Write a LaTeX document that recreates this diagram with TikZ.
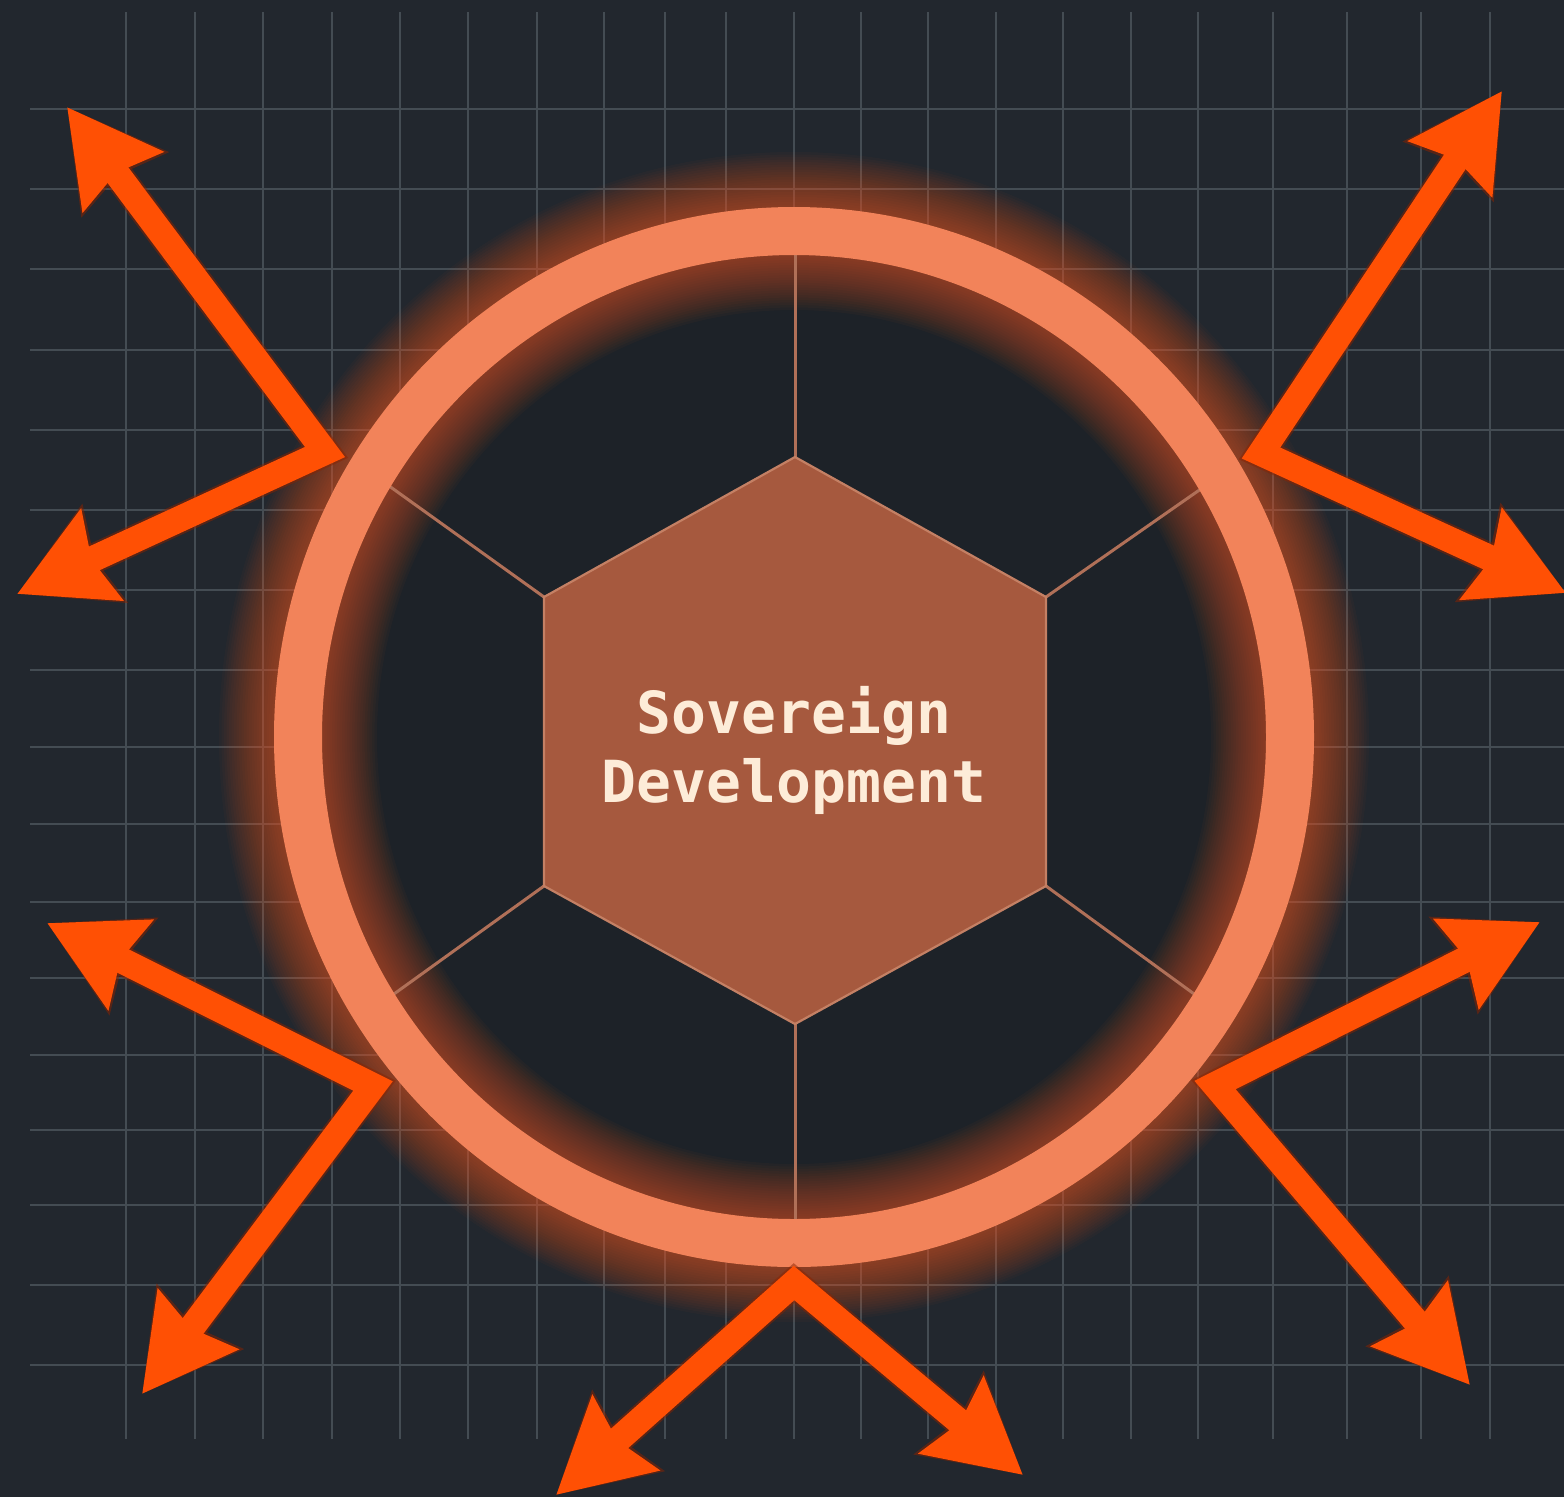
\documentclass[tikz,border=0pt]{standalone}
\usepackage{fontspec}
\newfontfamily\plexmono{DejaVu Sans Mono}
\usetikzlibrary{arrows.meta}
\definecolor{bg}{RGB}{34,39,46}
\definecolor{innerc}{RGB}{29,34,40}
\definecolor{gridc}{RGB}{68,76,83}
\definecolor{ringc}{RGB}{242,131,90}
\definecolor{glowc}{RGB}{255,100,35}
\definecolor{arrowc}{RGB}{255,80,4}
\definecolor{arrowedge}{RGB}{140,35,0}
\definecolor{hexc}{RGB}{166,89,62}
\definecolor{hexedge}{RGB}{196,128,100}
\definecolor{spokec}{RGB}{176,112,88}
\definecolor{textc}{RGB}{253,236,216}
\begin{document}
\begin{tikzpicture}[x=1pt,y=-1pt,
  gridline/.style={gridc, line width=1.8pt},
  spoke/.style={spokec, line width=3pt},
  ringline/.style={ringc, line width=48pt},
  burst/.style={arrowc, line width=26pt, line join=miter,
    >={Stealth[length=92pt,width=97pt,inset=10pt]}, <->},
  burstedge/.style={arrowedge, opacity=0.5, line width=30pt, line join=miter,
    >={Stealth[length=95pt,width=104pt,inset=10pt]}, <->},
  hextext/.style={text=textc, font=\plexmono\bfseries\fontsize{58}{69}\selectfont, inner sep=0pt, anchor=base}
]
\useasboundingbox (0,0) rectangle (1564,1497);
\fill[bg] (0,0) rectangle (1564,1497);
% grid
\foreach \gx in {126,195,263,332,400,468,537,604,665,726,794,861,928,996,1063,1131,1198,1273,1347,1421,1490}
  \draw[gridline] (\gx,12) -- (\gx,1439);
\foreach \gy in {109,189,269,350,430,510,590,670,747,824,902,978,1055,1130,1205,1285,1365}
  \draw[gridline] (30,\gy) -- (1564,\gy);
% circle interior
\coordinate (c) at (794,737);
\fill[innerc] (c) ellipse [x radius=496pt, y radius=506pt];
% glow
\foreach \i [evaluate=\i as \lw using 48+5*\i] in {1,...,22}
  \draw[glowc, opacity=0.03, line width=\lw pt] (c) ellipse [x radius=496pt, y radius=506pt];
% hexagon vertices
\coordinate (h1) at (795,457);
\coordinate (h2) at (1046,597);
\coordinate (h3) at (1046,886);
\coordinate (h4) at (795,1024);
\coordinate (h5) at (544,886);
\coordinate (h6) at (544,597);
% spoke ends
\coordinate (s1) at (795,238);
\coordinate (s2) at (1208,484);
\coordinate (s3) at (1201,999);
\coordinate (s4) at (795,1232);
\coordinate (s5) at (387,999);
\coordinate (s6) at (378,478);
\foreach \k in {1,...,6} \draw[spoke] (h\k) -- (s\k);
\filldraw[fill=hexc, draw=hexedge, line width=2.2pt, line join=miter] (h1) -- (h2) -- (h3) -- (h4) -- (h5) -- (h6) -- cycle;
% ring
\draw[ringline] (c) ellipse [x radius=496pt, y radius=506pt];
% arrow vertices and tips
\coordinate (v1) at (325,452);  \coordinate (a1) at (67,107);   \coordinate (b1) at (17,594);
\coordinate (v2) at (1261,453); \coordinate (a2) at (1502,91);  \coordinate (b2) at (1566,593);
\coordinate (v3) at (373,1086); \coordinate (a3) at (47,923);   \coordinate (b3) at (142,1394);
\coordinate (v4) at (1215,1085);\coordinate (a4) at (1540,922); \coordinate (b4) at (1470,1385);
\coordinate (v5) at (794,1283); \coordinate (a5) at (556,1495); \coordinate (b5) at (1023,1475);
\foreach \k in {1,...,5} \draw[burstedge] (a\k) -- (v\k) -- (b\k);
\foreach \k in {1,...,5} \draw[burst] (a\k) -- (v\k) -- (b\k);
% text
\node[hextext] (t1) at (794,733) {Sovereign};
\node[hextext] (t2) at (794,802) {Development};
\end{tikzpicture}
\end{document}
